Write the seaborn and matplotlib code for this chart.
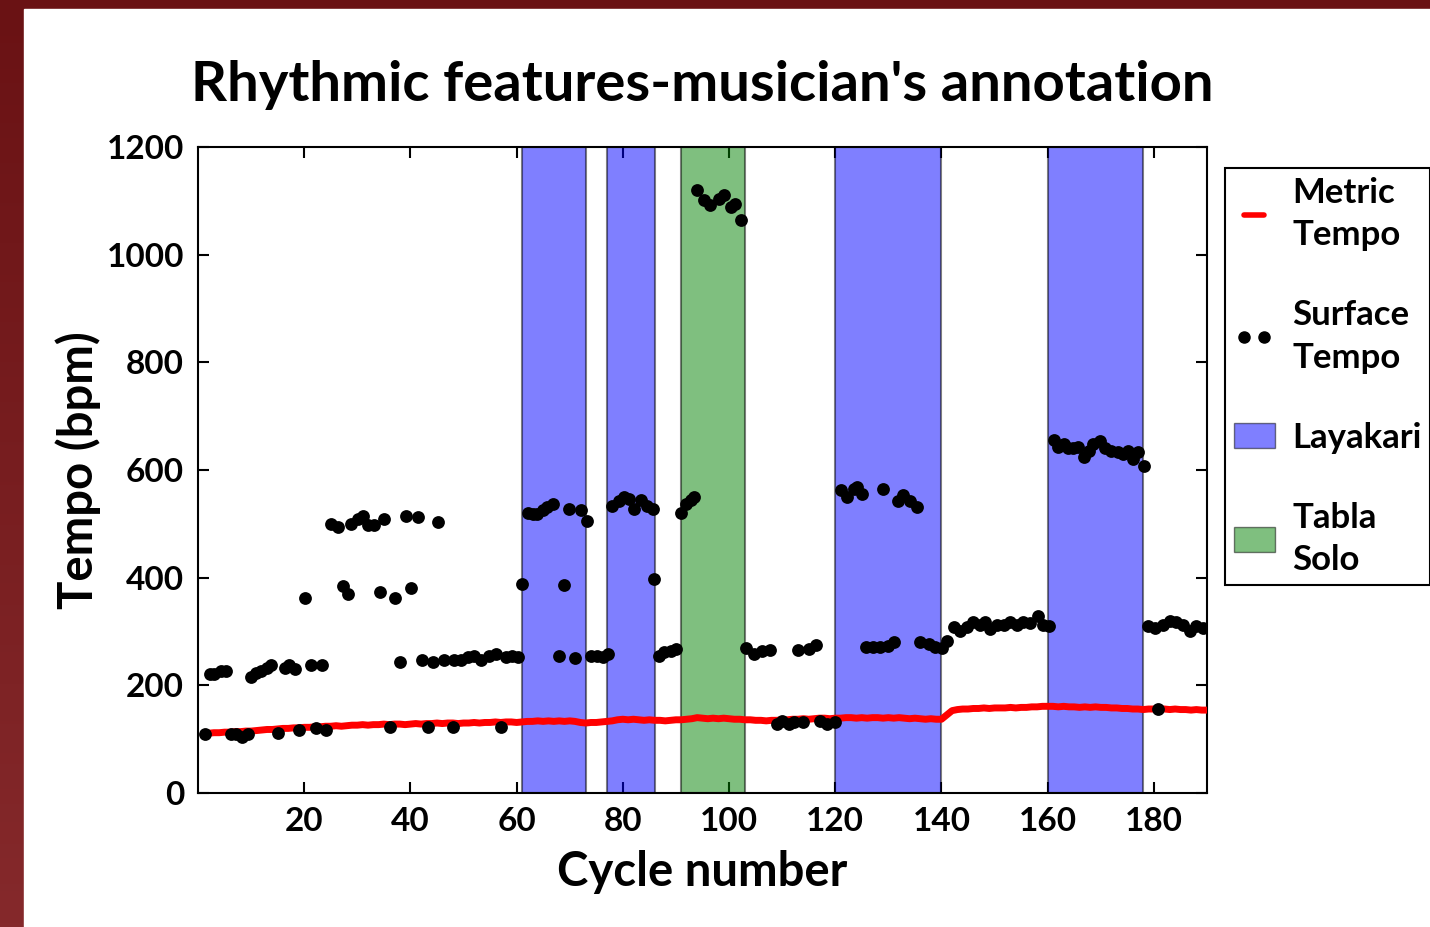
import numpy as np
import pandas as pd
import seaborn as sns
import matplotlib.pyplot as plt
from matplotlib.lines import Line2D
from matplotlib.patches import Patch, Rectangle
from matplotlib.colors import LinearSegmentedColormap

# metric tempo, one value per cycle (1..190)
cycles = list(range(1, 191))
metric_tempo = [
    110, 111, 112, 112, 113, 113, 114, 114, 115, 115,
    116, 117, 118, 118, 119, 120, 120, 121, 121, 122,
    122, 123, 123, 124, 124, 125, 124, 125, 126, 126,
    127, 126, 127, 127, 128, 127, 128, 128, 127, 128,
    129, 128, 129, 129, 130, 129, 130, 130, 129, 130,
    130, 131, 130, 131, 131, 132, 131, 132, 132, 131,
    132, 133, 133, 134, 133, 134, 133, 134, 133, 134,
    133, 131, 130, 131, 131, 132, 133, 134, 136, 137,
    136, 137, 136, 135, 136, 135, 135, 134, 135, 136,
    136, 137, 138, 140, 139, 138, 139, 138, 139, 138,
    137, 137, 136, 136, 135, 135, 134, 135, 135, 136,
    136, 137, 137, 138, 137, 138, 139, 139, 138, 139,
    139, 140, 140, 139, 140, 139, 140, 140, 139, 140,
    139, 140, 139, 138, 139, 138, 137, 138, 137, 137,
    145, 153, 155, 156, 156, 157, 157, 158, 157, 158,
    158, 158, 159, 158, 159, 159, 160, 160, 161, 161,
    161, 160, 161, 160, 160, 159, 160, 159, 160, 159,
    159, 158, 158, 157, 157, 156, 156, 155, 156, 156,
    156, 156, 155, 156, 155, 155, 154, 155, 154, 154,
]

# surface tempo points
surface_x = [
    1.3, 2.2, 3.1, 4.4, 5.3, 6.3, 7.2, 8.2, 9.4, 10.0, 11.0, 11.9, 12.9, 13.8,
    15.1, 16.3, 17.2, 18.2, 19.1, 20.1, 21.2, 22.3, 23.4, 24.1, 25.1, 26.3,
    27.3, 28.2, 28.8, 30.1, 31.0, 32.0, 33.2, 34.2, 35.1, 36.2, 37.1, 38.1,
    39.2, 40.1, 41.4, 42.1, 43.3, 44.2, 45.1, 46.4, 48.0, 48.3, 49.5, 50.8,
    52.0, 53.3, 54.8, 56.1, 57.0, 58.0, 59.2, 60.2, 61.1, 62.1, 63.0, 63.9,
    64.9, 65.8, 66.8, 68.0, 68.9, 69.9, 71.0, 72.1, 73.2, 74.0, 75.2, 76.2,
    77.2, 78.0, 79.3, 80.2, 81.2, 82.1, 83.4, 84.6, 85.6, 85.9, 86.8, 87.7,
    89.0, 90.1, 90.9, 91.8, 92.8, 93.4, 94.0, 95.3, 96.5, 98.1, 99.0, 100.3,
    101.2, 102.2, 103.1, 104.7, 106.2, 107.8, 109.1, 110.0, 111.2, 112.2,
    113.0, 114.0, 115.0, 116.3, 117.2, 118.4, 120.0, 121.0, 122.2, 123.5,
    124.1, 125.0, 125.7, 127.2, 128.5, 128.9, 130.0, 131.0, 131.9, 132.8,
    134.1, 135.4, 136.0, 137.6, 138.8, 140.1, 141.0, 142.3, 143.5, 144.8,
    146.0, 147.3, 148.2, 149.2, 150.4, 151.7, 152.9, 154.2, 155.4, 156.7,
    158.1, 159.2, 160.3, 161.1, 162.0, 163.0, 163.9, 164.8, 165.8, 166.8,
    167.7, 168.6, 169.9, 170.8, 172.0, 173.3, 174.2, 175.2, 176.1, 177.1,
    178.2, 178.9, 180.2, 180.8, 181.7, 183.0, 184.2, 185.5, 186.8, 188.0,
    189.2,
]
surface_y = [
    109, 221, 221, 227, 227, 109, 109, 104, 109, 215, 222, 227, 232, 238,
    112, 232, 238, 230, 117, 363, 238, 120, 238, 117, 500, 494,
    385, 370, 500, 509, 515, 497, 497, 373, 509, 123, 363, 244,
    515, 381, 513, 247, 123, 244, 503, 247, 123, 247, 247, 252,
    255, 247, 255, 259, 123, 252, 255, 252, 389, 520, 518, 518,
    525, 531, 537, 255, 387, 528, 250, 525, 505, 255, 255, 252,
    259, 534, 543, 549, 546, 528, 544, 534, 528, 398, 255, 261,
    264, 267, 521, 537, 544, 549, 1120, 1101, 1092, 1104, 1111, 1089,
    1095, 1064, 270, 258, 264, 265, 128, 134, 128, 131,
    265, 131, 267, 275, 134, 128, 131, 562, 549, 565,
    568, 556, 272, 272, 272, 565, 273, 280, 543, 553,
    543, 531, 280, 277, 272, 270, 283, 308, 301, 308,
    317, 313, 317, 304, 313, 313, 317, 313, 317, 315,
    329, 313, 311, 655, 642, 649, 640, 640, 642, 625,
    636, 649, 654, 640, 636, 633, 630, 636, 620, 633,
    608, 311, 306, 156, 313, 320, 317, 313, 301, 311,
    306,
]

layakari_spans = [(61, 73), (77, 86), (120, 140), (160, 178)]
tabla_solo_spans = [(91, 103)]

sns.set_style("ticks")
plt.rcParams['font.family'] = ['Lato', 'DejaVu Sans']
plt.rcParams['font.weight'] = 'bold'
plt.rcParams['text.color'] = 'black'
plt.rcParams['axes.labelcolor'] = 'black'

fig = plt.figure(figsize=(14.3, 9.27), dpi=100)

# slide background: maroon border + white page
bg = fig.add_axes([0, 0, 1, 1], zorder=-10)
cmap = LinearSegmentedColormap.from_list('slide', ['#6a1214', '#85292b'])
bg.imshow(np.linspace(0, 1, 256).reshape(-1, 1), aspect='auto', cmap=cmap,
          extent=[0, 1, 0, 1], origin='upper')
bg.add_patch(Rectangle((24 / 1430, 0), 1, 1 - 9 / 927, color='white'))
bg.set_xlim(0, 1)
bg.set_ylim(0, 1)
bg.axis('off')

ax = fig.add_axes([198 / 1430, 1 - 793 / 927, 1009 / 1430, 646 / 927])
ax.set_facecolor('white')

for a, b in layakari_spans:
    ax.axvspan(a, b, facecolor='#0000ff', edgecolor='black', alpha=0.5, lw=1.5, zorder=1)
for a, b in tabla_solo_spans:
    ax.axvspan(a, b, facecolor='#008000', edgecolor='black', alpha=0.5, lw=1.5, zorder=1)

metric_df = pd.DataFrame({'cycle': cycles, 'tempo': metric_tempo})
surface_df = pd.DataFrame({'cycle': surface_x, 'tempo': surface_y})

sns.lineplot(data=metric_df, x='cycle', y='tempo', color='red', lw=5, ax=ax, zorder=3)
sns.scatterplot(data=surface_df, x='cycle', y='tempo', color='black', s=85,
                linewidth=0, ax=ax, zorder=4)

ax.set_xlim(0, 190)
ax.set_ylim(0, 1200)
ax.set_xticks(range(20, 181, 20))
ax.set_yticks(range(0, 1201, 200))
ax.tick_params(direction='in', length=8, width=1.5, top=True, right=True,
               labelsize=24, pad=10, colors='black')
for s in ax.spines.values():
    s.set_color('black')
    s.set_linewidth(1.5)

ax.set_xlabel('Cycle number', fontsize=34, fontweight='bold', labelpad=10)
ax.set_ylabel('Tempo (bpm)', fontsize=34, fontweight='bold', labelpad=4)

fig.text(702 / 1430, 1 - 85 / 927, "Rhythmic features-musician's annotation",
         ha='center', va='center', fontsize=40.5, fontweight='bold', color='black')

handles = [
    Line2D([], [], color='red', lw=4),
    Line2D([], [], color='black', ls='', marker='o', markersize=8),
    Patch(facecolor='#0000ff', edgecolor='black', alpha=0.5),
    Patch(facecolor='#008000', edgecolor='black', alpha=0.5),
]
labels = ['Metric\nTempo', 'Surface\nTempo', 'Layakari', 'Tabla\nSolo']
leg = ax.legend(handles, labels, loc='upper left', bbox_to_anchor=(1.018, 0.967),
                frameon=True, fancybox=False, edgecolor='black', framealpha=1,
                fontsize=25, numpoints=2, handlelength=1.18, handletextpad=0.5,
                labelspacing=1.38, borderpad=0.25, borderaxespad=0)
leg.get_frame().set_linewidth(1.5)
for t in leg.get_texts():
    t.set_linespacing(1.4)

fig.savefig('out.png', dpi=100)
